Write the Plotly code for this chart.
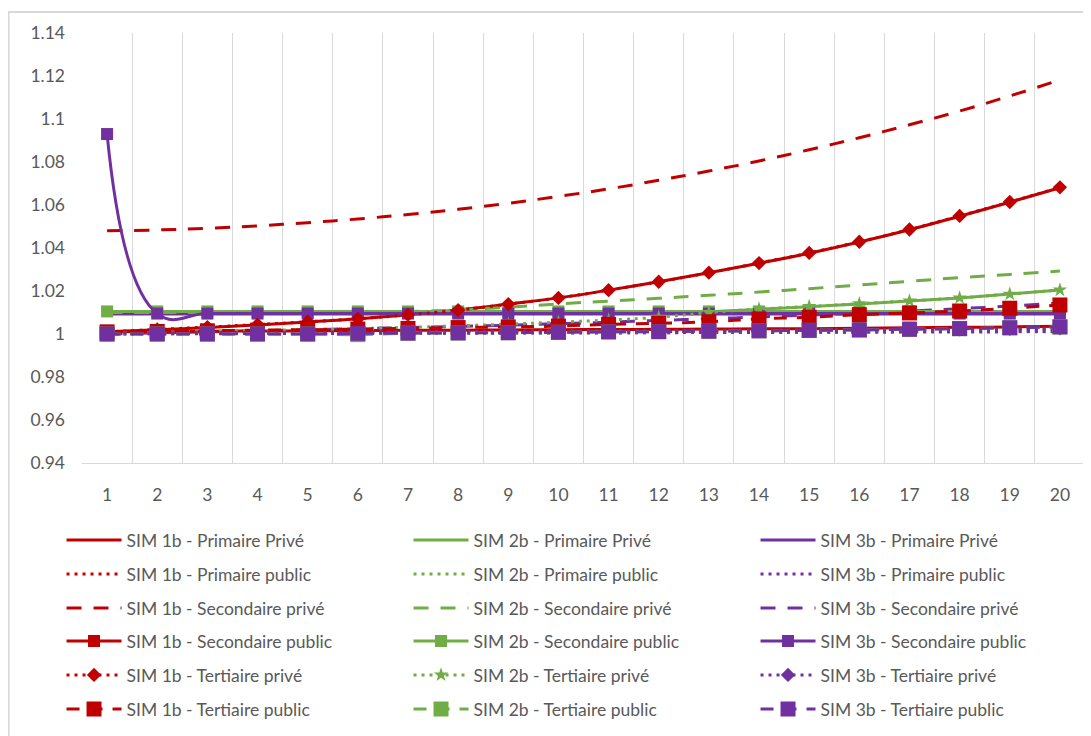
import plotly.graph_objects as go

years = list(range(1, 21))
y_tick_vals = [0.94, 0.96, 0.98, 1.0, 1.02, 1.04, 1.06, 1.08, 1.1, 1.12, 1.14]
y_tick_text = ["0.94", "0.96", "0.98", "1", "1.02", "1.04", "1.06", "1.08", "1.1", "1.12", "1.14"]

# SIM 1b (red)
sim1b_primaire_prive = [1.0010, 1.0020, 1.0030, 1.0042, 1.0056, 1.0071, 1.0090, 1.0112, 1.0139, 1.0168,
                        1.0204, 1.0243, 1.0285, 1.0329, 1.0376, 1.0428, 1.0485, 1.0548, 1.0613, 1.0680]
sim1b_primaire_public = [1.0005, 1.0006, 1.0007, 1.0008, 1.0009, 1.0010, 1.0011, 1.0012, 1.0013, 1.0014,
                         1.0015, 1.0016, 1.0017, 1.0018, 1.0019, 1.0020, 1.0021, 1.0022, 1.0023, 1.0025]
sim1b_secondaire_prive = [1.0480, 1.0484, 1.0492, 1.0503, 1.0518, 1.0535, 1.0556, 1.0580, 1.0608, 1.0640,
                          1.0675, 1.0715, 1.0758, 1.0805, 1.0857, 1.0913, 1.0973, 1.1037, 1.1107, 1.1182]
sim1b_secondaire_public = [1.0010, 1.0012, 1.0013, 1.0014, 1.0015, 1.0016, 1.0017, 1.0018, 1.0019, 1.0020,
                           1.0021, 1.0022, 1.0023, 1.0024, 1.0025, 1.0027, 1.0029, 1.0031, 1.0033, 1.0036]
sim1b_tertiaire_prive = [1.0010, 1.0021, 1.0032, 1.0044, 1.0057, 1.0071, 1.0089, 1.0111, 1.0139, 1.0168,
                         1.0204, 1.0243, 1.0285, 1.0330, 1.0377, 1.0429, 1.0486, 1.0549, 1.0614, 1.0682]
sim1b_tertiaire_public = [1.0010, 1.0012, 1.0015, 1.0018, 1.0020, 1.0023, 1.0026, 1.0030, 1.0033, 1.0037,
                          1.0045, 1.0050, 1.0057, 1.0070, 1.0078, 1.0090, 1.0098, 1.0107, 1.0120, 1.0135]

# SIM 2b (green)
sim2b_primaire_prive = [1.0100, 1.0100, 1.0100, 1.0100, 1.0100, 1.0100, 1.0100, 1.0100, 1.0100, 1.0100,
                        1.0100, 1.0101, 1.0104, 1.0115, 1.0127, 1.0140, 1.0153, 1.0168, 1.0186, 1.0205]
sim2b_primaire_public = [1.0000, 1.0001, 1.0002, 1.0002, 1.0003, 1.0003, 1.0004, 1.0004, 1.0005, 1.0005,
                         1.0006, 1.0006, 1.0007, 1.0007, 1.0008, 1.0008, 1.0009, 1.0009, 1.0010, 1.0011]
sim2b_secondaire_prive = [1.0100, 1.0100, 1.0100, 1.0100, 1.0100, 1.0101, 1.0105, 1.0112, 1.0125, 1.0140,
                          1.0153, 1.0166, 1.0180, 1.0195, 1.0211, 1.0228, 1.0245, 1.0262, 1.0277, 1.0293]
sim2b_secondaire_public = [1.0105, 1.0105, 1.0105, 1.0105, 1.0105, 1.0105, 1.0105, 1.0105, 1.0105, 1.0105,
                           1.0105, 1.0105, 1.0105, 1.0105, 1.0105, 1.0105, 1.0105, 1.0105, 1.0105, 1.0105]
sim2b_tertiaire_prive = [1.0005, 1.0008, 1.0012, 1.0016, 1.0020, 1.0025, 1.0031, 1.0038, 1.0046, 1.0055,
                         1.0065, 1.0078, 1.0100, 1.0116, 1.0128, 1.0141, 1.0154, 1.0168, 1.0186, 1.0205]
sim2b_tertiaire_public = [1.0000, 1.0000, 1.0000, 1.0000, 1.0000, 0.9997, 1.0004, 1.0005, 1.0006, 1.0008,
                          1.0010, 1.0011, 1.0013, 1.0015, 1.0017, 1.0019, 1.0022, 1.0025, 1.0029, 1.0033]

# SIM 3b (purple)
sim3b_primaire_prive = [1.0093, 1.0093, 1.0093, 1.0093, 1.0093, 1.0093, 1.0093, 1.0093, 1.0093, 1.0093,
                        1.0093, 1.0093, 1.0093, 1.0093, 1.0093, 1.0093, 1.0093, 1.0093, 1.0093, 1.0093]
sim3b_primaire_public = [1.0000, 1.0001, 1.0001, 1.0002, 1.0002, 1.0003, 1.0003, 1.0004, 1.0004, 1.0005,
                         1.0005, 1.0006, 1.0007, 1.0007, 1.0008, 1.0009, 1.0010, 1.0010, 1.0011, 1.0012]
sim3b_secondaire_prive = [1.0000, 1.0005, 1.0010, 1.0015, 1.0020, 1.0025, 1.0030, 1.0035, 1.0041, 1.0048,
                          1.0055, 1.0063, 1.0071, 1.0079, 1.0088, 1.0097, 1.0107, 1.0118, 1.0130, 1.0144]
sim3b_secondaire_public = [1.0930, 1.0095, 1.0095, 1.0095, 1.0095, 1.0095, 1.0095, 1.0095, 1.0095, 1.0095,
                           1.0095, 1.0095, 1.0095, 1.0095, 1.0095, 1.0095, 1.0095, 1.0095, 1.0095, 1.0095]
sim3b_tertiaire_prive = [1.0005, 1.0006, 1.0007, 1.0008, 1.0009, 1.0010, 1.0011, 1.0012, 1.0013, 1.0014,
                         1.0015, 1.0016, 1.0017, 1.0018, 1.0019, 1.0020, 1.0021, 1.0022, 1.0024, 1.0026]
sim3b_tertiaire_public = [1.0000, 1.0000, 1.0000, 1.0000, 1.0000, 1.0003, 1.0004, 1.0005, 1.0006, 1.0008,
                          1.0010, 1.0011, 1.0013, 1.0015, 1.0017, 1.0019, 1.0022, 1.0025, 1.0029, 1.0033]

sims = ["SIM 1b", "SIM 2b", "SIM 3b"]
colors = {"SIM 1b": "#C00000", "SIM 2b": "#70AD47", "SIM 3b": "#7030A0"}
series_names = ["Primaire Privé", "Primaire public", "Secondaire privé",
                "Secondaire public", "Tertiaire privé", "Tertiaire public"]
data = {
    "SIM 1b": [sim1b_primaire_prive, sim1b_primaire_public, sim1b_secondaire_prive,
               sim1b_secondaire_public, sim1b_tertiaire_prive, sim1b_tertiaire_public],
    "SIM 2b": [sim2b_primaire_prive, sim2b_primaire_public, sim2b_secondaire_prive,
               sim2b_secondaire_public, sim2b_tertiaire_prive, sim2b_tertiaire_public],
    "SIM 3b": [sim3b_primaire_prive, sim3b_primaire_public, sim3b_secondaire_prive,
               sim3b_secondaire_public, sim3b_tertiaire_prive, sim3b_tertiaire_public],
}

# style per series type: (dash, marker symbol, marker size)
styles = [
    ("solid", None, 0),
    ("3px,5px", None, 0),
    ("15px,12px", None, 0),
    ("solid", "square", 12),
    ("3px,5px", "diamond", 11),
    ("13px,10px", "square", 15),
]

FONT = "Lato"
TXT = "#595959"
FS = 17.5

fig = go.Figure()
legend_names = ["legend", "legend2", "legend3", "legend4", "legend5", "legend6"]
for i, sname in enumerate(series_names):
    dash, sym, msize = styles[i]
    for sim in sims:
        c = colors[sim]
        s = sym
        ms = msize
        if sim == "SIM 2b" and i == 4:
            s = "star"
            ms = 11
        kw = dict(
            x=years, y=data[sim][i], name=f"{sim} - {sname}",
            line=dict(color=c, width=3, dash=dash, shape="spline", smoothing=1.3),
            legend=legend_names[i], showlegend=True,
        )
        if s:
            kw["mode"] = "lines+markers"
            kw["marker"] = dict(symbol=s, size=ms, color=c, line=dict(width=0))
        else:
            kw["mode"] = "lines"
        fig.add_trace(go.Scatter(**kw))

# page is offset by the 8px body margin: work in screenshot pixels, convert
OFF = 8
W, H = 1091 - OFF, 736 - OFF
L = 81.5 - OFF
T = 33 - OFF
R = W - (1085.5 - OFF)
B = H - (463 - OFF)
pw, ph = W - L - R, H - T - B

def px_x(x):
    return (x - OFF - L) / pw

def px_y(y):
    return (H - B - (y - OFF)) / ph

row_y = [540, 574, 608, 641, 675, 709]
layout_legends = {}
for k, ln in enumerate(legend_names):
    layout_legends[ln] = dict(
        orientation="h", x=px_x(61), xanchor="left", y=px_y(row_y[k]), yanchor="middle",
        entrywidth=277, entrywidthmode="pixels", itemwidth=55, itemsizing="trace",
        font=dict(family=FONT, size=FS, color=TXT), bgcolor="rgba(0,0,0,0)",
        traceorder="normal", itemclick=False,
    )

fig.update_layout(
    width=W, height=H,
    margin=dict(l=L, r=R, t=T, b=B, autoexpand=False),
    paper_bgcolor="white", plot_bgcolor="white",
    font=dict(family=FONT, size=FS, color=TXT),
    xaxis=dict(
        range=[0.5, 20.5], tickmode="array", tickvals=years, ticktext=[str(v) for v in years],
        showgrid=False, zeroline=False, showline=True, linecolor="#D9D9D9", linewidth=1,
        ticks="", ticklabelstandoff=16,
        minor=dict(tickmode="linear", tick0=0.5, dtick=1, showgrid=True, gridcolor="#D9D9D9", gridwidth=1),
        tickfont=dict(family=FONT, size=FS, color=TXT),
    ),
    yaxis=dict(
        range=[0.94, 1.14], tickmode="array", tickvals=y_tick_vals, ticktext=y_tick_text,
        showgrid=False, zeroline=False, showline=False, ticks="", ticklabelstandoff=16,
        tickfont=dict(family=FONT, size=FS, color=TXT),
    ),
    **layout_legends,
)

fig.add_shape(type="rect", xref="paper", yref="paper",
              x0=px_x(8), y0=px_y(750), x1=px_x(1100), y1=px_y(12),
              line=dict(color="#D9D9D9", width=2), fillcolor="rgba(0,0,0,0)", layer="below")

fig.write_html("out.html")
